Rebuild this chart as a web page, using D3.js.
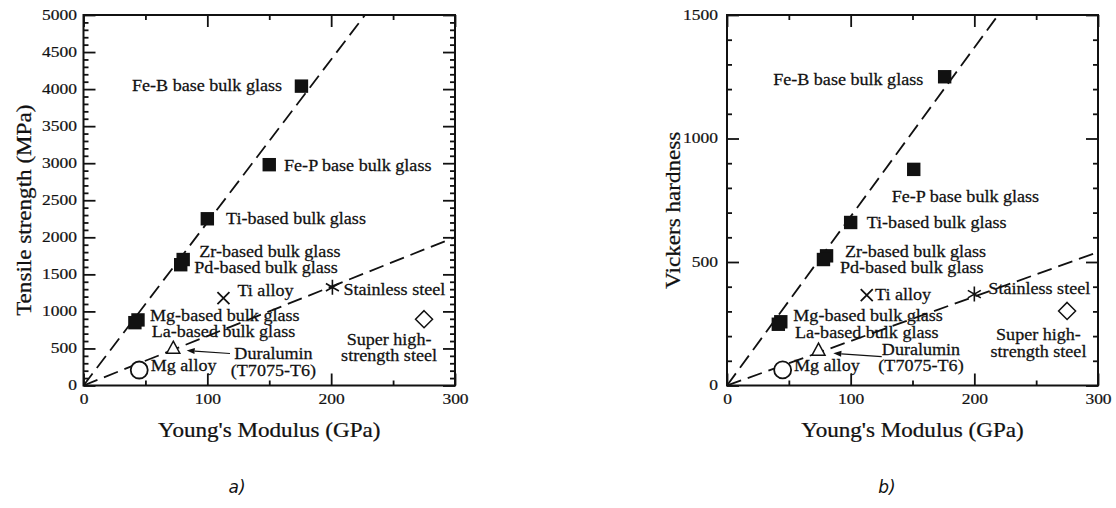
<!DOCTYPE html>
<html><head><meta charset="utf-8">
<script src="https://cdn.jsdelivr.net/npm/d3@7"></script>
<style>
body{margin:0;background:#fff}
svg{display:block}
text{font-family:"Liberation Serif","Times New Roman",serif;fill:#111}
</style>
</head><body><svg id="c" width="1116" height="508"></svg>
<script>
// ---------- DATA ----------
const materials = ["Fe-B base bulk glass","Fe-P base bulk glass","Ti-based bulk glass","Zr-based bulk glass","Pd-based bulk glass","Mg-based bulk glass","La-based bulk glass","Ti alloy","Stainless steel","Super high-\nstrength steel","Duralumin\n(T7075-T6)","Mg alloy"];
const markerKinds = ["square","square","square","square","square","square","square","cross","asterisk","diamond","triangle","circle"];
const modulusA  = [176,150,100,80.5,78.5,44,41.5,113,201,275,72.5,45];
const strengthA = [4040,2980,2250,1700,1630,885,848,1180,1325,895,510,209];
const modulusB  = [176,151,100,80.5,78,43.5,41.5,113,200,275,74,45];
const hardnessB = [1250,875,660,525,510,258,248,366,370,302,145,63];
const xTicks = [0,100,200,300];
const yTicksA = [0,500,1000,1500,2000,2500,3000,3500,4000,4500,5000];
const yTicksB = [0,500,1000,1500];
const trendSlopesA = [22, 6.67];
const trendSlopesB = [6.84, 1.8];
const xTitle = "Young's Modulus (GPa)";
const yTitleA = "Tensile strength (MPa)";
const yTitleB = "Vickers hardness";
const captions = ["a)","b)"];

// ---------- LAYOUT (pixel offsets of labels from markers) ----------
const layoutA = [
 {dx:-19.4,dy:4.6,a:"end"},{dx:14.8,dy:6},{dx:18.7,dy:5.2},{dx:16.1,dy:-2.8},{dx:13.6,dy:8.6},
 {dx:12,dy:1.0},{dx:16.8,dy:14.8},{dx:14,dy:-2},{dx:11,dy:7.7},{dx:-35,dy:25.8,a:"middle"},
 {dx:100.2,dy:11.6,a:"middle"},{dx:11.5,dy:0.7}];
const layoutB = [
 {dx:-21.4,dy:8.3,a:"end"},{dx:-22,dy:32.3},{dx:16,dy:5.8},{dx:18.4,dy:0.9},{dx:16.5,dy:13.8},
 {dx:12.5,dy:-0.9},{dx:16.7,dy:13.3},{dx:8.3,dy:5},{dx:14,dy:0},{dx:-28.6,dy:29.1,a:"middle"},
 {dx:102.5,dy:5.3,a:"middle"},{dx:11.3,dy:0.8}];

const SERIF = "'Liberation Serif','Times New Roman',serif";
const svg = d3.select("#c");
const defs = svg.append("defs");

function sText(g, x, y, str, size, sx, anchor, rot){
  return g.append("text")
    .attr("transform", `translate(${x},${y})` + (rot?` rotate(${rot})`:"") + ` scale(${sx},1)`)
    .attr("text-anchor", anchor || "start")
    .style("font-family", SERIF)
    .style("font-size", size + "px")
    .style("stroke", "#111").style("stroke-width", "0.25px")
    .text(str);
}

function drawChart(cfg){
  const {x0,x1,top,bottom,yMax,yTicks,yMinorStep,xs,ys,slopes,layout,yTitle,yTitleX,caption,capX,arrow,labelPad,id} = cfg;
  const g = svg.append("g");
  const x = d3.scaleLinear().domain([0,300]).range([x0,x1]);
  const y = d3.scaleLinear().domain([0,yMax]).range([bottom,top]);
  const yMinor = d3.range(0, yMax + 1, yMinorStep).filter(v => yTicks.indexOf(v) < 0);
  const xMinor = [50,150,250];

  const tsx = 1.25;
  const styleTicks = sel => sel.selectAll("text")
    .attr("transform",`scale(${tsx},1)`)
    .style("font-family", SERIF).style("font-size","14px")
    .style("stroke","#111").style("stroke-width","0.2px")
    .attr("fill","#111");
  const left = g.append("g").attr("transform",`translate(${x0},0)`)
    .call(d3.axisLeft(y).tickValues(yTicks).tickSize(-12).tickSizeOuter(0).tickPadding(labelPad/tsx).tickFormat(d3.format("d")));
  styleTicks(left);
  g.append("g").attr("transform",`translate(${x0},0)`)
    .call(d3.axisLeft(y).tickValues(yMinor).tickSize(-5).tickSizeOuter(0).tickFormat(""));
  g.append("g").attr("transform",`translate(${x1},0)`)
    .call(d3.axisRight(y).tickValues(yTicks).tickSize(-12).tickSizeOuter(0).tickFormat(""));
  g.append("g").attr("transform",`translate(${x1},0)`)
    .call(d3.axisRight(y).tickValues(yMinor).tickSize(-5).tickSizeOuter(0).tickFormat(""));
  const bot = g.append("g").attr("transform",`translate(0,${bottom})`)
    .call(d3.axisBottom(x).tickValues(xTicks).tickSize(-12).tickSizeOuter(0).tickPadding(8.6));
  styleTicks(bot);
  g.append("g").attr("transform",`translate(0,${bottom})`)
    .call(d3.axisBottom(x).tickValues(xMinor).tickSize(-5).tickSizeOuter(0).tickFormat(""));
  g.append("g").attr("transform",`translate(0,${top})`)
    .call(d3.axisTop(x).tickValues(xTicks).tickSize(-12).tickSizeOuter(0).tickFormat(""));
  g.append("g").attr("transform",`translate(0,${top})`)
    .call(d3.axisTop(x).tickValues(xMinor).tickSize(-5).tickSizeOuter(0).tickFormat(""));
  g.selectAll(".domain").remove();
  g.selectAll(".tick line").attr("stroke","#111").attr("stroke-width",1.8);
  g.append("rect").attr("x",x0).attr("y",top).attr("width",x1-x0).attr("height",bottom-top)
    .attr("fill","none").attr("stroke","#111").attr("stroke-width",2);

  // trend lines
  defs.append("clipPath").attr("id",id).append("rect")
    .attr("x",x0).attr("y",top).attr("width",x1-x0).attr("height",bottom-top);
  const line = d3.line().x(d=>x(d[0])).y(d=>y(d[1]));
  slopes.forEach(s=>{
    g.append("path").attr("clip-path",`url(#${id})`)
      .attr("d", line([[0,0],[300,300*s]]))
      .attr("fill","none").attr("stroke","#111").attr("stroke-width",1.8)
      .attr("stroke-dasharray","15,7");
  });

  // markers + labels
  materials.forEach((m,i)=>{
    const px = x(xs[i]), py = y(ys[i]);
    const k = markerKinds[i];
    const mg = g.append("g").attr("transform",`translate(${px},${py})`);
    if(k==="square"){
      mg.append("rect").attr("x",-6.7).attr("y",-6.7).attr("width",13.4).attr("height",13.4).attr("fill","#111");
    } else if(k==="cross"){
      mg.append("path").attr("d","M-6,-6L6,6M-6,6L6,-6").attr("stroke","#111").attr("stroke-width",1.8).attr("fill","none");
    } else if(k==="asterisk"){
      mg.append("path").attr("d","M0,-7.5L0,7.5M-6.5,-3.75L6.5,3.75M-6.5,3.75L6.5,-3.75").attr("stroke","#111").attr("stroke-width",1.6).attr("fill","none");
    } else if(k==="diamond"){
      mg.append("path").attr("d","M0,-8.5L8.5,0L0,8.5L-8.5,0Z").attr("stroke","#111").attr("stroke-width",1.5).attr("fill","#fff");
    } else if(k==="triangle"){
      mg.append("path").attr("d","M0,-6.5L6.5,5.5L-6.5,5.5Z").attr("stroke","#111").attr("stroke-width",1.5).attr("fill","#fff");
    } else if(k==="circle"){
      mg.append("circle").attr("r",8.5).attr("stroke","#111").attr("stroke-width",1.8).attr("fill","#fff");
    }
    const L = layout[i];
    m.split("\n").forEach((ln,j)=>{
      sText(g, px + L.dx, py + L.dy + j*16.5, ln, 16, 1.13, L.a || "start");
    });
    if(k==="triangle"){
      const ax0 = px + arrow[0], ay0 = py + arrow[1], ax1 = px + arrow[2], ay1 = py + arrow[3];
      const ang = Math.atan2(ay1-ay0, ax1-ax0);
      const hl = 8, hw = 3;
      const bx = ax1 - hl*Math.cos(ang), by = ay1 - hl*Math.sin(ang);
      g.append("line").attr("x1",ax0).attr("y1",ay0).attr("x2",bx).attr("y2",by).attr("stroke","#111").attr("stroke-width",1.2);
      g.append("path").attr("d",`M${ax1},${ay1}L${bx - hw*Math.sin(ang)},${by + hw*Math.cos(ang)}L${bx + hw*Math.sin(ang)},${by - hw*Math.cos(ang)}Z`).attr("fill","#111");
    }
  });

  // titles
  sText(g, (x0+x1)/2, 437, xTitle, 21, 1.1, "middle");
  sText(g, yTitleX, (top+bottom)/2 + 10, yTitle, 21, 1.1, "middle", -90);
  g.append("text").attr("x",capX).attr("y",493).attr("text-anchor","middle")
    .style("font-family","'DejaVu Sans',sans-serif").style("font-style","italic").style("font-size","17px")
    .text(caption);
}

drawChart({id:"clipA",x0:83.5,x1:455,top:15,bottom:385.5,yMax:5000,yTicks:yTicksA,yMinorStep:100,
  xs:modulusA,ys:strengthA,slopes:trendSlopesA,layout:layoutA,yTitle:yTitleA,yTitleX:31,
  caption:captions[0],capX:237,arrow:[56.7,5.8,13.4,2.8],labelPad:6.5});
drawChart({id:"clipB",x0:727,x1:1098,top:15,bottom:385.5,yMax:1500,yTicks:yTicksB,yMinorStep:100,
  xs:modulusB,ys:hardnessB,slopes:trendSlopesB,layout:layoutB,yTitle:yTitleB,yTitleX:680,
  caption:captions[1],capX:887,arrow:[63.2,7,14.8,3.6],labelPad:9});
</script>
</body></html>
